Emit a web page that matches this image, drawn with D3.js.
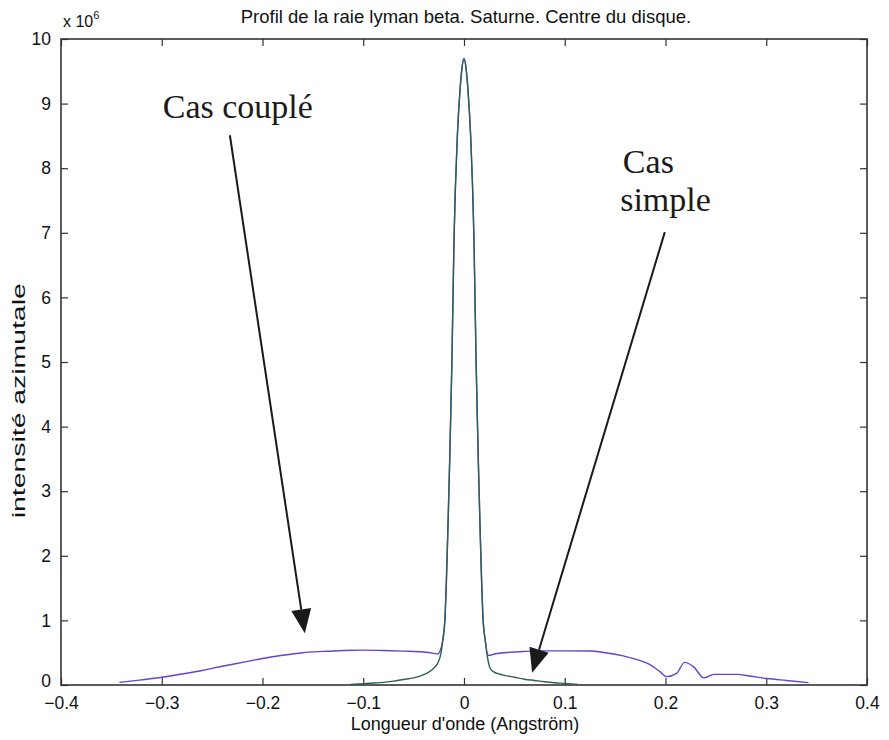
<!DOCTYPE html>
<html><head><meta charset="utf-8">
<script src="https://cdn.jsdelivr.net/npm/d3@7"></script>
<style>body{margin:0;background:#fff}svg{display:block}</style>
</head><body>
<script>
// ---- data (intensity in units of 10^6) ----
const title = "Profil de la raie lyman beta. Saturne. Centre du disque.";
const xLabel = "Longueur d'onde (Angström)";
const yLabel = "intensité azimutale";
const xTicks = [-0.4, -0.3, -0.2, -0.1, 0, 0.1, 0.2, 0.3, 0.4];
const yTicks = [0, 1, 2, 3, 4, 5, 6, 7, 8, 9, 10];

// "Cas simple" curve
const simpleX = [-0.113,-0.1,-0.09,-0.08,-0.07,-0.06,-0.05,-0.04,-0.035,-0.03,-0.026,-0.023,-0.021,-0.019,-0.0175,-0.016,-0.014,-0.012,-0.0099,-0.0066,-0.004,-0.002,0,
                 0.002,0.004,0.0066,0.0099,0.012,0.014,0.016,0.0175,0.019,0.021,0.023,0.026,0.03,0.035,0.04,0.05,0.06,0.07,0.08,0.09,0.1,0.113];
const simpleY = [0.01,0.02,0.03,0.04,0.06,0.085,0.11,0.16,0.2,0.26,0.34,0.48,0.7,1.0,1.6,2.4,3.6,5.0,6.9,8.5,9.2,9.55,9.7,
                 9.55,9.2,8.5,6.9,5.0,3.6,2.4,1.6,1.0,0.7,0.46,0.26,0.2,0.17,0.15,0.12,0.09,0.07,0.05,0.035,0.025,0.01];

// "Cas couplé" curve
const coupleX = [-0.342,-0.32,-0.3,-0.28,-0.26,-0.24,-0.22,-0.2,-0.18,-0.16,-0.14,-0.12,-0.1,-0.08,-0.06,-0.04,-0.03,-0.026,-0.024,
                 -0.021,-0.019,-0.0175,-0.016,-0.014,-0.012,-0.0099,-0.0066,-0.004,-0.002,0,0.002,0.004,0.0066,0.0099,0.012,0.014,0.016,0.0175,0.019,0.021,
                 0.024,0.026,0.03,0.04,0.06,0.08,0.1,0.125,0.14,0.158,0.17,0.185,0.195,0.201,0.211,0.219,0.228,0.238,0.248,0.271,0.285,0.301,0.32,0.342];
const coupleY = [0.04,0.08,0.12,0.17,0.225,0.29,0.35,0.41,0.46,0.5,0.52,0.535,0.54,0.535,0.525,0.51,0.49,0.48,0.52,
                 0.7,1.0,1.6,2.4,3.6,5.0,6.9,8.5,9.2,9.55,9.7,9.55,9.2,8.5,6.9,5.0,3.6,2.4,1.6,1.0,0.7,
                 0.46,0.46,0.48,0.5,0.52,0.528,0.528,0.526,0.5,0.45,0.4,0.31,0.2,0.13,0.18,0.35,0.28,0.11,0.165,0.165,0.135,0.1,0.07,0.036];

// annotations (data units): text lines with anchor positions, arrows [x0,y0,x1,y1]
const labelLines = [
  {text:"Cas couplé", x:-0.2245, y:8.78},
  {text:"Cas",        x:0.183,   y:7.92},
  {text:"simple",     x:0.2,     y:7.33}
];
const arrows = [[-0.2324, 8.51, -0.158, 0.80], [0.1993, 7.01, 0.0676, 0.19]];

// ---- layout ----
const W = 889, H = 740;
const m = {left:61, right:867, top:39, bottom:685};
const svg = d3.select("body").append("svg").attr("width", W).attr("height", H);
const x = d3.scaleLinear().domain([-0.4, 0.4]).range([m.left, m.right]);
const y = d3.scaleLinear().domain([0, 10]).range([m.bottom, m.top]);
const font = "Arial, 'Liberation Sans', sans-serif";
const axisColor = "#333";

// frame
svg.append("rect").attr("x", m.left).attr("y", m.top)
  .attr("width", m.right - m.left).attr("height", m.bottom - m.top)
  .attr("fill", "none").attr("stroke", axisColor).attr("stroke-width", 1.6);

const tickLen = 7;
function styleAxis(g){ g.select(".domain").remove(); g.selectAll("line").attr("stroke", axisColor).attr("stroke-width",1.2);
  g.selectAll("text").attr("font-family", font).attr("font-size", 17.5).attr("fill", "#111"); }

svg.append("g").attr("transform", `translate(0,${m.bottom})`)
  .call(d3.axisBottom(x).tickValues(xTicks).tickFormat(d3.format("")).tickSizeInner(-tickLen).tickSizeOuter(0).tickPadding(tickLen+5))
  .call(styleAxis);
svg.append("g").attr("transform", `translate(0,${m.top})`)
  .call(d3.axisTop(x).tickValues(xTicks).tickFormat("").tickSizeInner(-tickLen).tickSizeOuter(0))
  .call(styleAxis);
svg.append("g").attr("transform", `translate(${m.left},0)`)
  .call(d3.axisLeft(y).tickValues(yTicks).tickFormat(d3.format("d")).tickSizeInner(-tickLen).tickSizeOuter(0).tickPadding(tickLen+3))
  .call(styleAxis)
  .call(g => g.selectAll(".tick text").filter(d => d === 0).attr("dy", "0.1em"));
svg.append("g").attr("transform", `translate(${m.right},0)`)
  .call(d3.axisRight(y).tickValues(yTicks).tickFormat("").tickSizeInner(-tickLen).tickSizeOuter(0))
  .call(styleAxis);

// exponent label
const ex = svg.append("text").attr("x", m.left + 2).attr("y", 27)
  .attr("font-family", font).attr("font-size", 16).attr("fill", "#111");
ex.append("tspan").text("x 10");
ex.append("tspan").attr("font-size", 11).attr("dy", -8).text("6");

// title & labels
svg.append("text").attr("x", 466).attr("y", 23).attr("text-anchor", "middle")
  .attr("font-family", font).attr("font-size", 18.5).attr("fill", "#111").text(title);
svg.append("text").attr("x", 465).attr("y", 730).attr("text-anchor", "middle")
  .attr("font-family", font).attr("font-size", 18).attr("fill", "#111").text(xLabel);
svg.append("text").attr("transform", `translate(25,${y(4.4)}) rotate(-90)`).attr("text-anchor", "middle")
  .attr("font-family", font).attr("font-size", 18).attr("fill", "#111")
  .attr("textLength", 235).attr("lengthAdjust", "spacingAndGlyphs").text(yLabel);

// curves
const line = d3.line().x(d => x(d[0])).y(d => y(d[1])).curve(d3.curveMonotoneX);
svg.append("path").datum(d3.zip(coupleX, coupleY)).attr("d", line)
  .attr("fill", "none").attr("stroke", "#6444cc").attr("stroke-width", 1.4);
svg.append("path").datum(d3.zip(simpleX, simpleY)).attr("d", line)
  .attr("fill", "none").attr("stroke", "#2f5f55").attr("stroke-width", 1.4);

// annotations
const serif = "'Liberation Serif', 'DejaVu Serif', serif";
labelLines.forEach(l => {
  svg.append("text").attr("font-family", serif).attr("font-size", 34).attr("fill", "#1a1a1a")
    .attr("text-anchor", "middle").attr("x", x(l.x)).attr("y", y(l.y)).text(l.text);
});
arrows.forEach(a => {
  const x0 = x(a[0]), y0 = y(a[1]), x1 = x(a[2]), y1 = y(a[3]);
  const ang = Math.atan2(y1 - y0, x1 - x0), L = 24, hw = 10;
  const bx = x1 - L*Math.cos(ang), by = y1 - L*Math.sin(ang);
  svg.append("line").attr("x1", x0).attr("y1", y0).attr("x2", bx).attr("y2", by)
    .attr("stroke", "#1a1a1a").attr("stroke-width", 2);
  const px = -Math.sin(ang), py = Math.cos(ang);
  svg.append("path").attr("d", `M${x1},${y1}L${bx + hw*px},${by + hw*py}L${bx - hw*px},${by - hw*py}Z`)
    .attr("fill", "#1a1a1a");
});
</script>
</body></html>
